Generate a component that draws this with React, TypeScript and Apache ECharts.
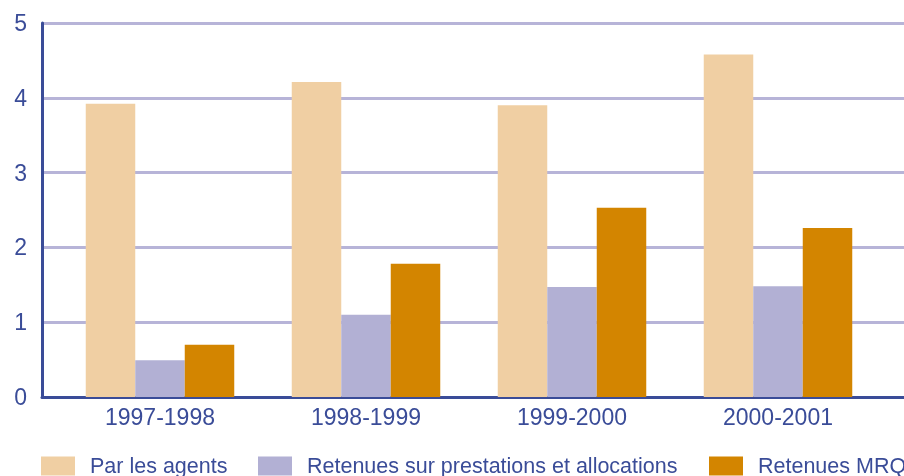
import React, { useEffect, useRef } from "react";
import * as echarts from "echarts";

const categories = ["1997-1998", "1998-1999", "1999-2000", "2000-2001"];
const seriesNames = ["Par les agents", "Retenues sur prestations et allocations", "Retenues MRQ"];
const parLesAgents = [3.92, 4.21, 3.9, 4.58];
const retenuesPrestations = [0.49, 1.1, 1.47, 1.48];
const retenuesMRQ = [0.7, 1.78, 2.53, 2.26];
const colors = ["#F0CFA3", "#B2B0D4", "#D38500"];
const legendLefts = [41, 258, 709];

const NAVY = "#3A4C98";
const FONT = "'Liberation Sans', Arial, sans-serif";

export default function App() {
  const ref = useRef<HTMLDivElement>(null);
  useEffect(() => {
    if (!ref.current) return;
    const chart = echarts.init(ref.current, null, { renderer: "svg" });
    const values = [parLesAgents, retenuesPrestations, retenuesMRQ];
    chart.setOption({
      animation: false,
      textStyle: { fontFamily: FONT },
      legend: seriesNames.map((name, i) => ({
        top: 455,
        left: legendLefts[i],
        padding: 0,
        itemWidth: 34,
        itemHeight: 19,
        icon: "rect",
        textStyle: { color: NAVY, fontSize: 21.5, fontFamily: FONT, padding: [0, 0, 0, 10] },
        data: [name],
      })),
      grid: [
        { left: 42, right: 0, top: 23, bottom: 79 },
        { left: 57, right: 23, top: 23, bottom: 79 },
      ],
      xAxis: [
        {
          type: "category",
          gridIndex: 0,
          data: categories,
          axisLine: { show: true, lineStyle: { color: NAVY, width: 3 } },
          axisTick: { show: false },
          axisLabel: { show: false },
        },
        {
          type: "category",
          gridIndex: 1,
          data: categories,
          axisLine: { show: false },
          axisTick: { show: false },
          axisLabel: { color: NAVY, fontSize: 23, fontFamily: FONT, margin: 8 },
        },
      ],
      yAxis: [
        {
          type: "value",
          gridIndex: 0,
          min: 0,
          max: 5,
          interval: 1,
          axisLine: { show: true, lineStyle: { color: NAVY, width: 3 } },
          axisTick: { show: false },
          axisLabel: { color: NAVY, fontSize: 23, fontFamily: FONT, margin: 15 },
          splitLine: { show: true, lineStyle: { color: "#B7B4D8", width: 3 } },
        },
        {
          type: "value",
          gridIndex: 1,
          min: 0,
          max: 5,
          interval: 1,
          show: false,
        },
      ],
      series: seriesNames.map((name, i) => ({
        name,
        type: "bar",
        xAxisIndex: 1,
        yAxisIndex: 1,
        data: values[i],
        barWidth: 49.5,
        barGap: "0%",
        itemStyle: { color: colors[i] },
      })),
    });
    return () => chart.dispose();
  }, []);
  return (
    <div
      ref={ref}
      style={{ position: "fixed", left: 0, top: 0, width: 904, height: 476 }}
    />
  );
}
